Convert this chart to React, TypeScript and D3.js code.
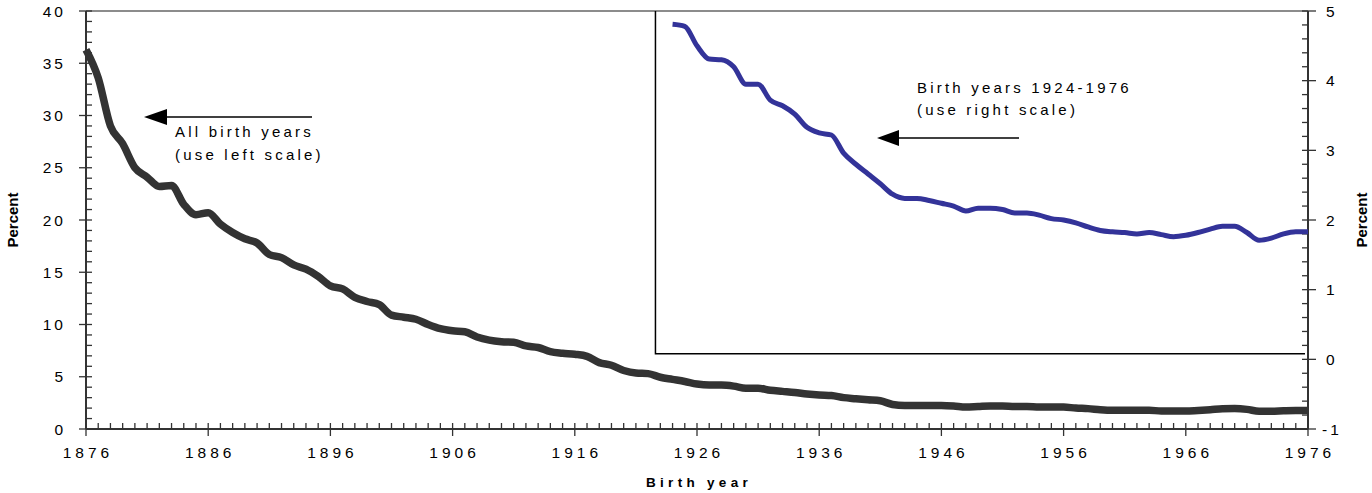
import React from "react";
import * as d3 from "d3";

// share of each birth cohort, percent (left scale), 1876..1976
const allYears = d3.range(1876, 1977);
const allBirths = [
  36.3, 33.6, 29.0, 27.3, 25.0, 24.1, 23.2, 23.3, 21.5, 20.5,
  20.7, 19.6, 18.8, 18.2, 17.8, 16.7, 16.4, 15.7, 15.3, 14.6,
  13.7, 13.4, 12.6, 12.2, 11.9, 10.9, 10.7, 10.5, 10.0, 9.6,
  9.4, 9.3, 8.8, 8.5, 8.35, 8.3, 7.95, 7.8, 7.4, 7.25,
  7.15, 6.95, 6.35, 6.1, 5.6, 5.35, 5.3, 4.95, 4.75, 4.55,
  4.3, 4.2, 4.2, 4.1, 3.9, 3.9, 3.7, 3.6, 3.5, 3.35,
  3.25, 3.2, 3.0, 2.9, 2.8, 2.7, 2.35, 2.25, 2.25, 2.25,
  2.25, 2.2, 2.1, 2.15, 2.2, 2.2, 2.15, 2.15, 2.1, 2.1,
  2.1, 2.0, 1.95, 1.85, 1.8, 1.8, 1.8, 1.8, 1.72, 1.72,
  1.72, 1.78, 1.85, 1.93, 1.95, 1.88, 1.7, 1.7, 1.75, 1.78,
  1.78,
];

// 1924..1976 (right scale)
const recentYears = d3.range(1924, 1977);
const recentBirths = [
  4.81, 4.78, 4.5, 4.31, 4.3, 4.2, 3.95, 3.95, 3.72, 3.64,
  3.52, 3.33, 3.25, 3.22, 2.96, 2.8, 2.66, 2.52, 2.37, 2.31,
  2.31, 2.28, 2.24, 2.2, 2.13, 2.17, 2.17, 2.15, 2.1, 2.1,
  2.07, 2.02, 2.0, 1.96, 1.9, 1.85, 1.83, 1.82, 1.8, 1.82,
  1.79, 1.76, 1.78, 1.82, 1.87, 1.91, 1.91, 1.82, 1.71, 1.74,
  1.8, 1.83, 1.83,
];

const xTicks = [1876, 1886, 1896, 1906, 1916, 1926, 1936, 1946, 1956, 1966, 1976];
const leftTicks = [0, 5, 10, 15, 20, 25, 30, 35, 40];
const rightTicks = [-1, 0, 1, 2, 3, 4, 5];

const W = 1372;
const H = 493;
const font = "'Liberation Sans', Arial, sans-serif";

export default function App() {
  const x = d3.scaleLinear([1876, 1976], [86, 1308]);
  const yL = d3.scaleLinear([0, 40], [429, 11]);
  const yR = d3.scaleLinear([-1, 5], [429, 11]);

  const lineAll = d3
    .line<number>()
    .x((d, i) => x(allYears[i]))
    .y((d) => yL(d))
    .curve(d3.curveMonotoneX);
  const lineRecent = d3
    .line<number>()
    .x((d, i) => x(recentYears[i]))
    .y((d) => yR(d))
    .curve(d3.curveMonotoneX);

  const minorX = d3.range(1876, 1977);
  const minorL = d3.range(0, 41);
  const minorR = d3.range(-1, 5.001, 0.2);

  const axisColor = "#333";
  const ls = 4;

  // inset box, reaching just above 0 on the right scale
  const boxX = x(1922.6);
  const boxY = yR(0.08);

  return (
    <svg width={W} height={H} style={{ position: "absolute", left: 0, top: 0, background: "#fff" }} fontFamily={font}>
      {/* top frame */}
      <line x1={x(1876)} x2={x(1976)} y1={yL(40)} y2={yL(40)} stroke="#8c8c8c" strokeWidth={2} />

      {/* inset box */}
      <path d={`M${boxX},${yL(40)}V${boxY}H${x(1976) - 3}`} fill="none" stroke="#000" strokeWidth={1.5} />

      {/* left axis */}
      <line x1={86} x2={86} y1={yL(40)} y2={yL(0)} stroke={axisColor} strokeWidth={2} />
      {minorL.map((v) => (
        <line key={"ml" + v} x1={v % 5 === 0 ? 79 : 86} x2={92} y1={yL(v)} y2={yL(v)} stroke={axisColor} strokeWidth={1.3} />
      ))}
      {leftTicks.map((v) => (
        <text key={"tl" + v} x={66} y={yL(v)} dy="0.36em" textAnchor="end" fontSize={15.5} letterSpacing={3} fill="#000">
          {v}
        </text>
      ))}

      {/* right axis */}
      <line x1={1308} x2={1308} y1={yR(5)} y2={yR(-1)} stroke={axisColor} strokeWidth={2} />
      {minorR.map((v, i) => (
        <line key={"mr" + i} x1={1302} x2={i % 5 === 0 ? 1316 : 1308} y1={yR(v)} y2={yR(v)} stroke={axisColor} strokeWidth={1.3} />
      ))}
      {rightTicks.map((v) => (
        <text key={"tr" + v} x={v < 0 ? 1322 : 1326} y={yR(v)} dy="0.36em" fontSize={15.5} letterSpacing={3} fill="#000">
          {v}
        </text>
      ))}

      {/* bottom axis */}
      <line x1={86} x2={1308} y1={429} y2={429} stroke={axisColor} strokeWidth={2} />
      {minorX.map((v) => (
        <line key={"mx" + v} x1={x(v)} x2={x(v)} y1={423} y2={(v - 1876) % 10 === 0 ? 436 : 429} stroke={axisColor} strokeWidth={1.3} />
      ))}
      {xTicks.map((v) => (
        <text key={"tx" + v} x={x(v) + ls / 2} y={458} textAnchor="middle" fontSize={15.5} letterSpacing={ls} fill="#000">
          {v}
        </text>
      ))}

      {/* axis titles */}
      <text x={x(1926) + 2} y={487} textAnchor="middle" fontSize={13.5} fontWeight="bold" letterSpacing={4.3} fill="#000">
        Birth year
      </text>
      <text transform={`translate(18,220) rotate(-90)`} textAnchor="middle" fontSize={15} fontWeight="bold" fill="#000">
        Percent
      </text>
      <text transform={`translate(1367,220) rotate(-90)`} textAnchor="middle" fontSize={15} fontWeight="bold" fill="#000">
        Percent
      </text>

      {/* series */}
      <path d={lineAll(allBirths) ?? ""} fill="none" stroke="#333333" strokeWidth={7.5} />
      <path d={lineRecent(recentBirths) ?? ""} fill="none" stroke="#333399" strokeWidth={5} />

      {/* annotations */}
      <line x1={165} x2={312} y1={117} y2={117} stroke="#000" strokeWidth={1.5} />
      <path d="M144,117L167,109V125Z" fill="#000" />
      <text x={175} y={137} fontSize={15} letterSpacing={3.2} fill="#000">
        All birth years
      </text>
      <text x={175} y={160} fontSize={15} letterSpacing={3.2} fill="#000">
        (use left scale)
      </text>

      <line x1={896} x2={1019} y1={138} y2={138} stroke="#000" strokeWidth={1.5} />
      <path d="M877,138L899,130V146Z" fill="#000" />
      <text x={917} y={93} fontSize={15} letterSpacing={3.2} fill="#000">
        Birth years 1924-1976
      </text>
      <text x={917} y={115} fontSize={15} letterSpacing={3.2} fill="#000">
        (use right scale)
      </text>
    </svg>
  );
}
